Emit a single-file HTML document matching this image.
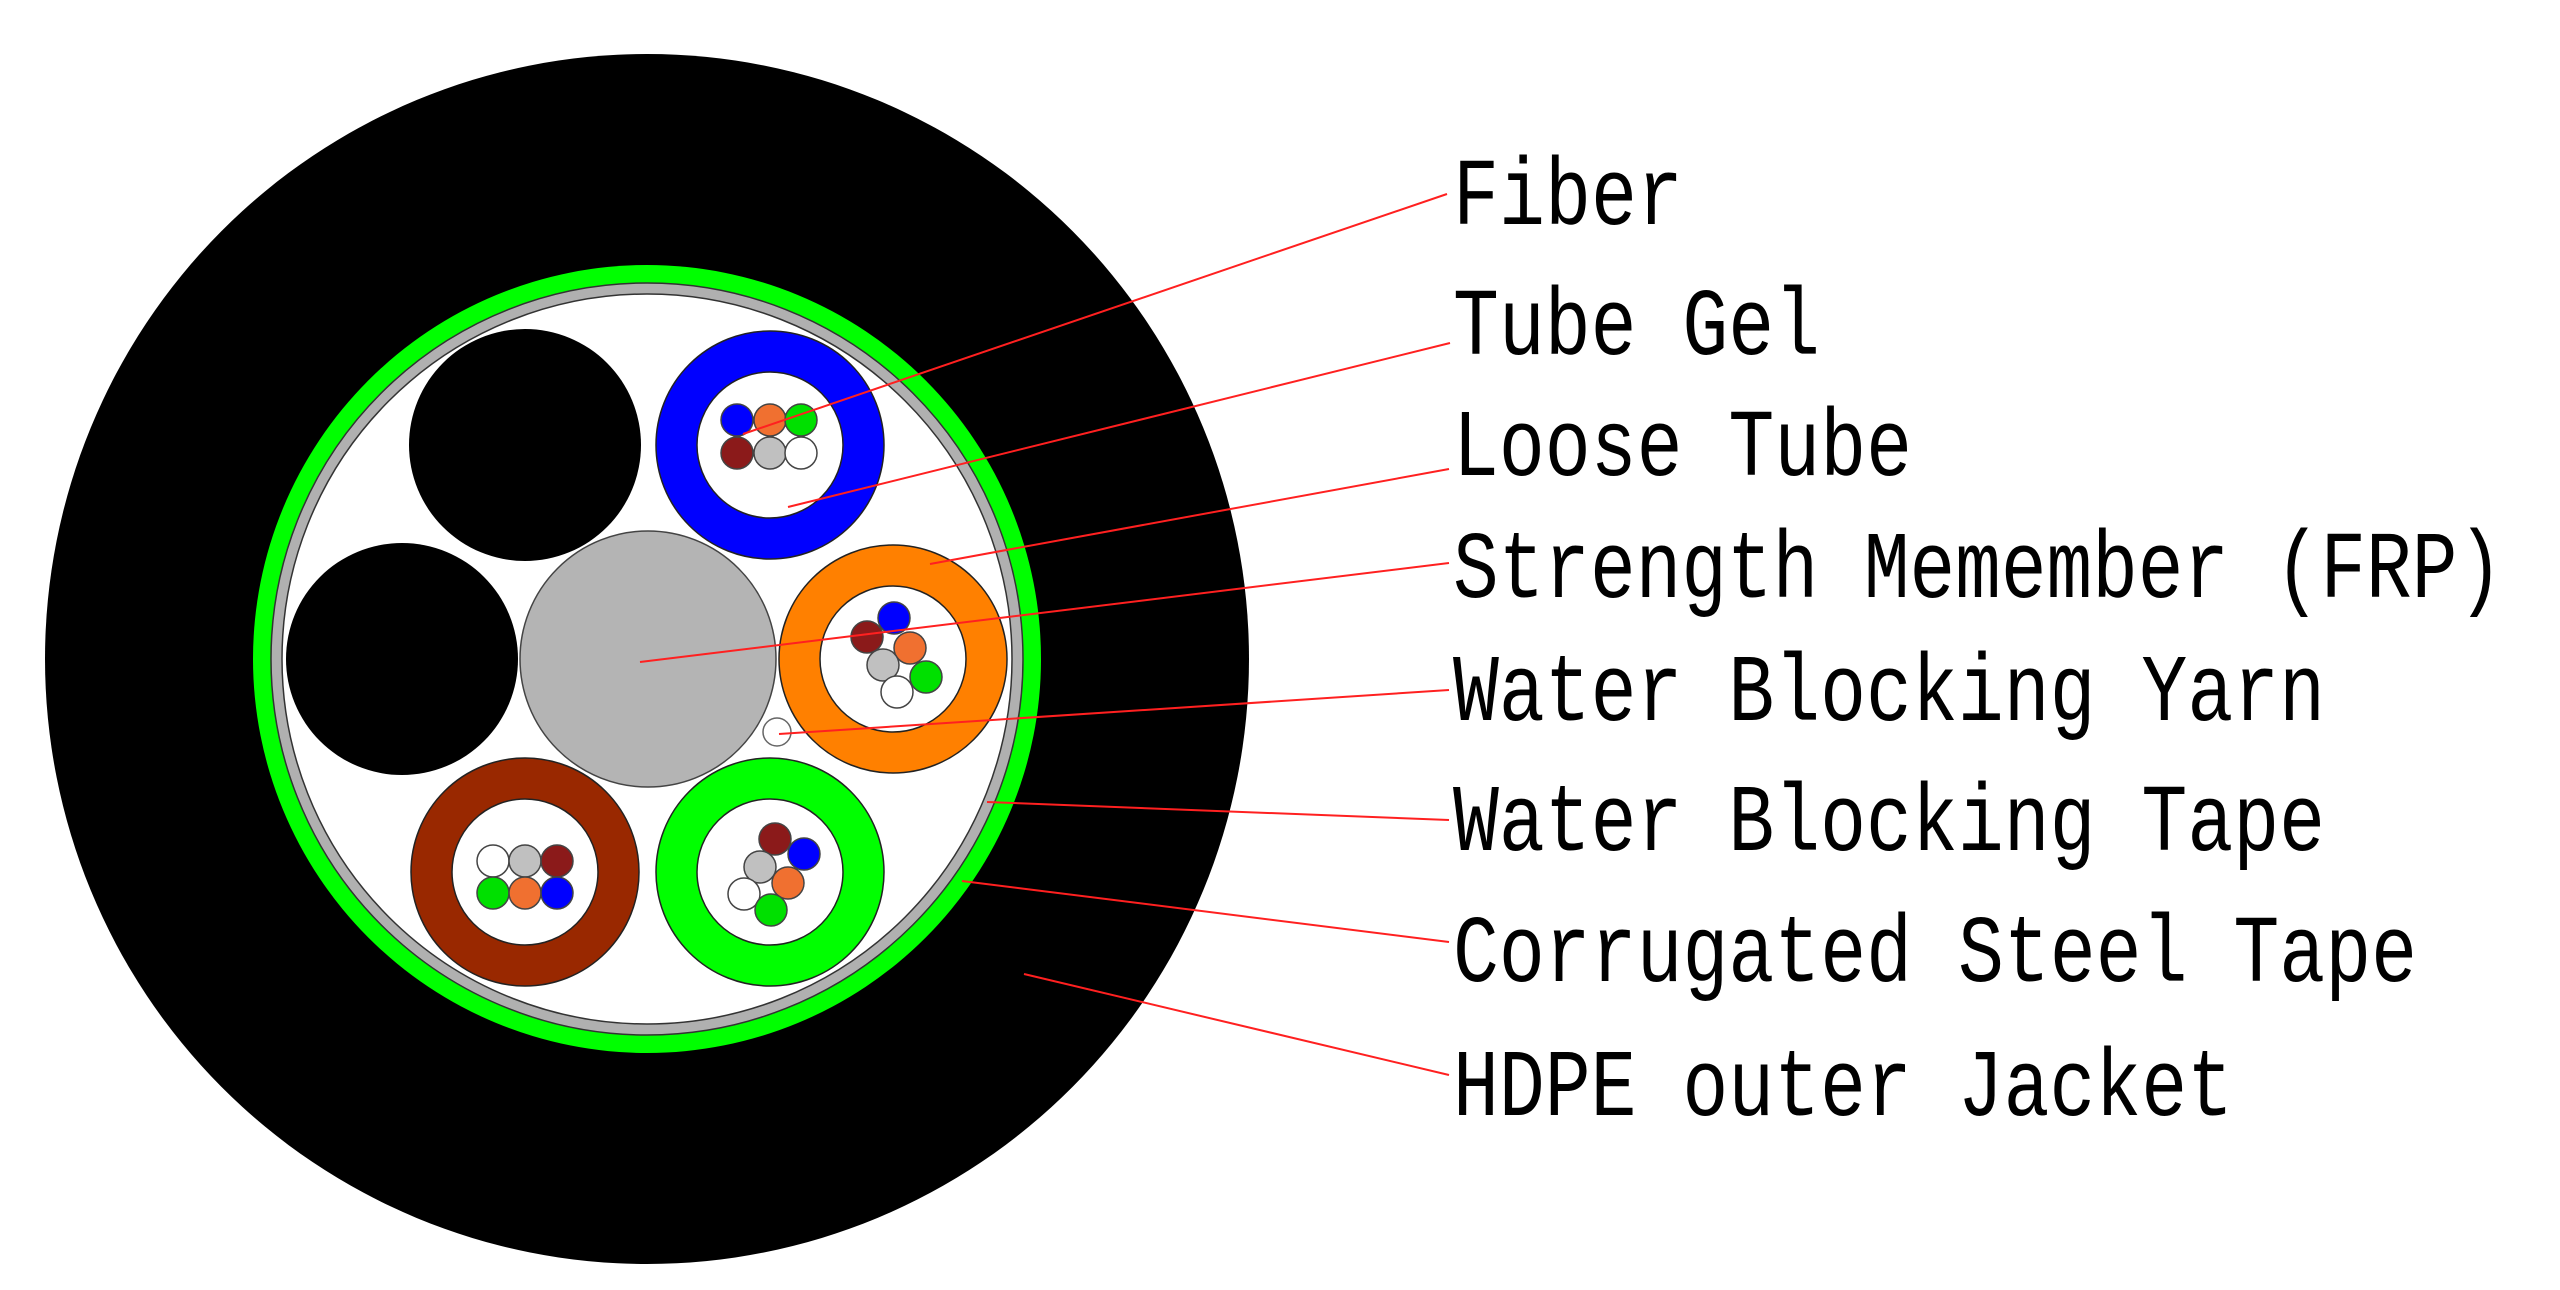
<!DOCTYPE html>
<html><head><meta charset="utf-8"><style>
html,body{margin:0;padding:0;background:#fff;}
svg{display:block}
text{font-family:"Liberation Mono",monospace;font-size:96px;fill:#000;}
</style></head><body>
<svg width="2560" height="1290" viewBox="0 0 2560 1290" xmlns="http://www.w3.org/2000/svg">
<rect width="2560" height="1290" fill="#fff"/>
<ellipse cx="647" cy="659" rx="602" ry="605" fill="#000"/>
<circle cx="647" cy="659" r="394" fill="#00ff00"/>
<circle cx="647" cy="659" r="376" fill="#b0b0b0" stroke="#333" stroke-width="1.5"/>
<circle cx="647" cy="659" r="365" fill="#fff" stroke="#333" stroke-width="1.5"/>
<circle cx="525" cy="445" r="116" fill="#000"/>
<circle cx="402" cy="659" r="116" fill="#000"/>
<circle cx="648" cy="659" r="128" fill="#b4b4b4" stroke="#444" stroke-width="1.5"/>
<circle cx="777" cy="732" r="14" fill="#fff" stroke="#666" stroke-width="1.5"/>
<g stroke="#222" stroke-width="1.5">
<circle cx="770" cy="445" r="114" fill="#0000ff"/><circle cx="770" cy="445" r="73" fill="#fff"/>
<circle cx="893" cy="659" r="114" fill="#ff8000"/><circle cx="893" cy="659" r="73" fill="#fff"/>
<circle cx="770" cy="872" r="114" fill="#00ff00"/><circle cx="770" cy="872" r="73" fill="#fff"/>
<circle cx="525" cy="872" r="114" fill="#992800"/><circle cx="525" cy="872" r="73" fill="#fff"/>
</g>
<g stroke="#444" stroke-width="1.5">
<circle cx="737" cy="420" r="16" fill="#0000ff"/><circle cx="770" cy="420" r="16" fill="#f07030"/><circle cx="801" cy="420" r="16" fill="#00e000"/>
<circle cx="737" cy="453" r="16" fill="#8b1a1a"/><circle cx="770" cy="453" r="16" fill="#c0c0c0"/><circle cx="801" cy="453" r="16" fill="#fff"/>
<circle cx="894" cy="618" r="16" fill="#0000ff"/><circle cx="867" cy="637" r="16" fill="#8b1a1a"/><circle cx="910" cy="648" r="16" fill="#f07030"/>
<circle cx="883" cy="665" r="16" fill="#c0c0c0"/><circle cx="926" cy="677" r="16" fill="#00e000"/><circle cx="897" cy="692" r="16" fill="#fff"/>
<circle cx="775" cy="839" r="16" fill="#8b1a1a"/><circle cx="804" cy="854" r="16" fill="#0000ff"/><circle cx="760" cy="867" r="16" fill="#c0c0c0"/>
<circle cx="788" cy="883" r="16" fill="#f07030"/><circle cx="744" cy="894" r="16" fill="#fff"/><circle cx="771" cy="910" r="16" fill="#00e000"/>
<circle cx="493" cy="861" r="16" fill="#fff"/><circle cx="525" cy="861" r="16" fill="#c0c0c0"/><circle cx="557" cy="861" r="16" fill="#8b1a1a"/>
<circle cx="493" cy="893" r="16" fill="#00e000"/><circle cx="525" cy="893" r="16" fill="#f07030"/><circle cx="557" cy="893" r="16" fill="#0000ff"/>
</g>
<g stroke="#ff2020" stroke-width="2" fill="none">
<line x1="743" y1="434" x2="1447" y2="194"/>
<line x1="788" y1="507" x2="1450" y2="343"/>
<line x1="930" y1="564" x2="1449" y2="469"/>
<line x1="640" y1="662" x2="1449" y2="563"/>
<line x1="779" y1="734" x2="1449" y2="690"/>
<line x1="987" y1="802" x2="1449" y2="820"/>
<line x1="962" y1="881" x2="1449" y2="942"/>
<line x1="1024" y1="974" x2="1449" y2="1075"/>
</g>
<text x="1453" y="224" textLength="230" lengthAdjust="spacingAndGlyphs">Fiber</text>
<text x="1453" y="354" textLength="367" lengthAdjust="spacingAndGlyphs">Tube Gel</text>
<text x="1453" y="475" textLength="459" lengthAdjust="spacingAndGlyphs">Loose Tube</text>
<text x="1453" y="597" textLength="1050" lengthAdjust="spacingAndGlyphs">Strength Memember (FRP)</text>
<text x="1453" y="720" textLength="872" lengthAdjust="spacingAndGlyphs">Water Blocking Yarn</text>
<text x="1453" y="850" textLength="872" lengthAdjust="spacingAndGlyphs">Water Blocking Tape</text>
<text x="1453" y="981" textLength="964" lengthAdjust="spacingAndGlyphs">Corrugated Steel Tape</text>
<text x="1453" y="1115" textLength="780" lengthAdjust="spacingAndGlyphs">HDPE outer Jacket</text>
</svg>
</body></html>
